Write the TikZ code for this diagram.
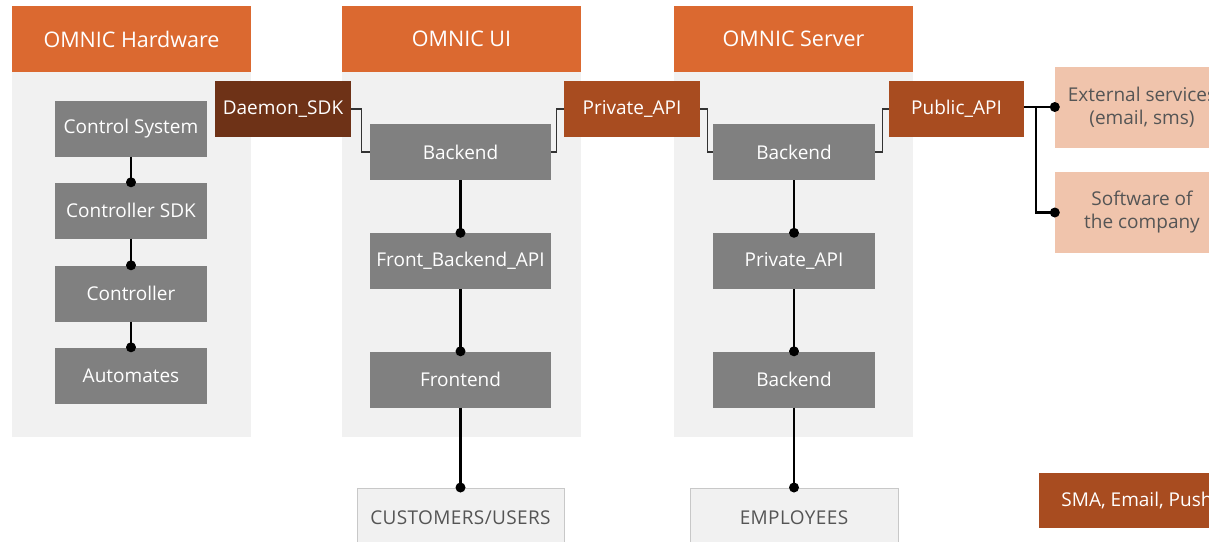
\documentclass[tikz,border=0pt]{standalone}
\usepackage{fontspec}
\setmainfont{Open Sans}
\usetikzlibrary{calc}
\definecolor{hdr}{HTML}{DB6930}
\definecolor{panel}{HTML}{F1F1F1}
\definecolor{gbox}{HTML}{808080}
\definecolor{api}{HTML}{A84C20}
\definecolor{daemon}{HTML}{6E3217}
\definecolor{peach}{HTML}{F0C4AC}
\definecolor{txtg}{HTML}{555555}
\definecolor{edgeg}{HTML}{C8C8C8}
\begin{document}
\begin{tikzpicture}[x=1pt,y=-1pt,
  header/.style={fill=hdr,text=white,minimum width=239pt,minimum height=66pt,inner sep=0pt,font=\fontsize{21.5}{24}\selectfont},
  panelbox/.style={fill=panel,minimum width=239pt,minimum height=365pt,inner sep=0pt},
  gb/.style={fill=gbox,text=white,minimum height=56pt,inner sep=0pt,font=\fontsize{19}{22}\selectfont},
  apibox/.style={fill=api,text=white,minimum width=136pt,minimum height=56pt,inner sep=0pt,font=\fontsize{19}{22}\selectfont},
  extbox/.style={fill=peach,text=txtg,minimum width=174pt,minimum height=81pt,inner sep=0pt,align=center,font=\fontsize{19}{23}\selectfont},
  userbox/.style={fill=panel,draw=edgeg,line width=1pt,text=txtg,minimum width=207pt,minimum height=60pt,inner sep=0pt,font=\fontsize{19}{22}\selectfont},
  conn/.style={line width=2.2pt,black},
  thinconn/.style={line width=1.3pt,black!80},
  dotn/.style={circle,fill=black,inner sep=0pt,minimum size=10pt}
]
\useasboundingbox (0,0) rectangle (1209,541);
% panels
\node[panelbox] (p1) at (131.5,254.5) {};
\node[panelbox] (p2) at (461.5,254.5) {};
\node[panelbox] (p3) at (793.5,254.5) {};
% headers
\node[header] (h1) at (131.5,39) {OMNIC Hardware};
\node[header] (h2) at (461.5,39) {OMNIC UI};
\node[header] (h3) at (793.5,39) {OMNIC Server};
% hardware column
\node[gb,minimum width=152pt] (cs) at (131,128.5) {Control System};
\node[gb,minimum width=152pt] (csdk) at (131,210.5) {Controller SDK};
\node[gb,minimum width=152pt] (ctl) at (131,293.5) {Controller};
\node[gb,minimum width=152pt] (aut) at (131,375.5) {Automates};
% UI column
\node[gb,minimum width=181pt] (uib) at (460.5,152) {Backend};
\node[gb,minimum width=181pt] (fba) at (460.5,261) {Front\_Backend\_API};
\node[gb,minimum width=181pt] (fe) at (460.5,379.5) {Frontend};
% Server column
\node[gb,minimum width=162pt] (sb) at (794,152) {Backend};
\node[gb,minimum width=162pt] (spa) at (794,261) {Private\_API};
\node[gb,minimum width=162pt] (sb2) at (794,379.5) {Backend};
% APIs
\node[apibox,fill=daemon] (dsdk) at (283,109) {Daemon\_SDK};
\node[apibox] (pa) at (632,109) {Private\_API};
\node[apibox,minimum width=135pt] (pub) at (956.5,109) {Public\_API};
% external
\node[extbox] (ext) at (1142,107) {External services\\(email, sms)};
\node[extbox] (soft) at (1142,212.5) {Software of\\the company};
\node[apibox,minimum width=196pt,minimum height=55pt] (sma) at (1137,500.5) {SMA, Email, Push};
% users
\node[userbox] (cust) at (460.5,518) {\addfontfeatures{LetterSpace=2}CUSTOMERS/USERS};
\node[userbox,minimum width=208pt] (emp) at (794,518) {\addfontfeatures{LetterSpace=2}EMPLOYEES};
% connectors hardware
\draw[conn] (cs.south) -- (csdk.north) node[dotn]{};
\draw[conn] (csdk.south) -- (ctl.north) node[dotn]{};
\draw[conn] (ctl.south) -- (aut.north) node[dotn]{};
% UI
\draw[conn] (uib.south) -- (fba.north) node[dotn]{};
\draw[conn] (fba.south) -- (fe.north) node[dotn]{};
\draw[conn] (fe.south) -- (cust.north) node[dotn]{};
% Server
\draw[conn] (sb.south) -- (spa.north) node[dotn]{};
\draw[conn] (spa.south) -- (sb2.north) node[dotn]{};
\draw[conn] (sb2.south) -- (emp.north) node[dotn]{};
% thin links
\draw[thinconn] (dsdk.east) -- ++(10,0) |- (uib.west);
\draw[thinconn] (uib.east) -- ++(5,0) |- (pa.west);
\draw[thinconn] (pa.east) -- ++(7,0) |- (sb.west);
\draw[thinconn] (sb.east) -- ++(7,0) |- (pub.west);
% public api
\coordinate (br) at (1036,107);
\draw[conn] (pub.east |- ext.west) -- (ext.west) node[dotn]{};
\draw[conn] (br) |- (soft.west) node[dotn]{};
\end{tikzpicture}
\end{document}
